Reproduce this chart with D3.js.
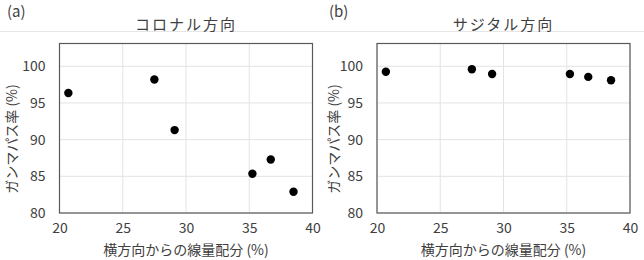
<!DOCTYPE html>
<html><head><meta charset="utf-8">
<script src="https://cdn.jsdelivr.net/npm/d3@7"></script>
<style>body{margin:0;background:#fff}svg{display:block}text{font-family:"Noto Sans CJK JP","Noto Sans",sans-serif;fill:#404040}</style>
</head><body><svg id="c" width="644" height="260"></svg>
<script>
const coronalX = [20.7, 27.5, 29.1, 35.25, 36.7, 38.5];
const coronalY = [96.35, 98.2, 91.3, 85.35, 87.3, 82.9];
const sagittalX = [20.7, 27.5, 29.1, 35.25, 36.7, 38.5];
const sagittalY = [99.25, 99.6, 98.95, 98.95, 98.55, 98.1];
const xTicks = [20, 25, 30, 35, 40];
const yTicks = [80, 85, 90, 95, 100];
const panels = [
  {tag: "(a)", title: "コロナル方向", xs: coronalX, ys: coronalY},
  {tag: "(b)", title: "サジタル方向", xs: sagittalX, ys: sagittalY}
];
const svg = d3.select("#c");
svg.append("line").attr("x1",0).attr("x2",644).attr("y1",31.5).attr("y2",31.5).attr("stroke","#e6e6e6");
const layout = [{ox:0, left:59.5, right:312.5}, {ox:322, left:377, right:630}];
panels.forEach((p,i)=>{
  const L = layout[i];
  const top = 43.5, bottom = 213;
  const x = d3.scaleLinear().domain([20,40]).range([L.left, L.right]);
  const y = d3.scaleLinear().domain([80,103.1]).range([bottom, top]);
  const g = svg.append("g");
  g.append("text").attr("x", L.ox+7).attr("y", 17).attr("font-size",15).text(p.tag);
  g.append("text").attr("x",(L.left+L.right)/2).attr("y",30).attr("text-anchor","middle").attr("font-size",15).attr("letter-spacing","2px").text(p.title);
  g.selectAll(".gx").data(xTicks).join("line").attr("x1",d=>x(d)).attr("x2",d=>x(d)).attr("y1",top).attr("y2",bottom).attr("stroke","#e3e3e3");
  g.selectAll(".gy").data(yTicks).join("line").attr("y1",d=>y(d)).attr("y2",d=>y(d)).attr("x1",L.left).attr("x2",L.right).attr("stroke","#e3e3e3");
  g.append("rect").attr("x",L.left).attr("y",top).attr("width",L.right-L.left).attr("height",bottom-top).attr("fill","none").attr("stroke","#595959").attr("stroke-width",1.2);
  const xa = d3.axisBottom(x).tickValues(xTicks).tickSize(0).tickPadding(10);
  const ax = g.append("g").attr("transform",`translate(0,${bottom})`).call(xa);
  ax.select(".domain").remove();
  ax.selectAll("text").attr("font-size",14).attr("fill","#404040").attr("font-family","'Noto Sans CJK JP',sans-serif");
  const ya = d3.axisLeft(y).tickValues(yTicks).tickSize(0).tickPadding(14);
  const ay = g.append("g").attr("transform",`translate(${L.left},0)`).call(ya);
  ay.select(".domain").remove();
  ay.selectAll("text").attr("font-size",14).attr("fill","#404040").attr("font-family","'Noto Sans CJK JP',sans-serif");
  g.append("text").attr("x",(L.left+L.right)/2).attr("y",255).attr("text-anchor","middle").attr("font-size",14).text("横方向からの線量配分 (%)");
  g.append("text").attr("transform",`translate(${L.ox+17},139) rotate(-90)`).attr("text-anchor","middle").attr("font-size",14).text("ガンマパス率 (%)");
  g.selectAll("circle").data(p.xs).join("circle").attr("cx",d=>x(d)).attr("cy",(d,j)=>y(p.ys[j])).attr("r",4.2).attr("fill","#000");
});
</script></body></html>
